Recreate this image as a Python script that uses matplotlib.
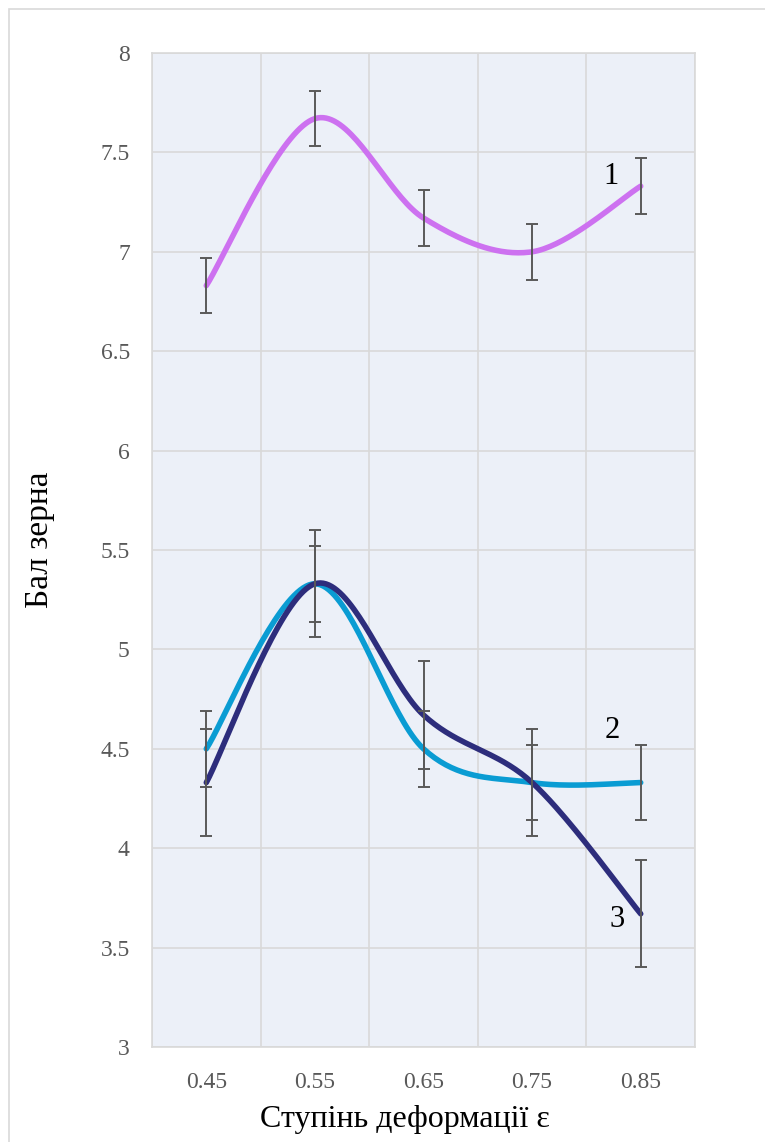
import numpy as np
import matplotlib
matplotlib.use("Agg")
import matplotlib.pyplot as plt
from matplotlib.patches import Rectangle

# data
strain = ["0.45", "0.55", "0.65", "0.75", "0.85"]
grain_1 = [6.83, 7.67, 7.17, 7.0, 7.33]
grain_2 = [4.5, 5.33, 4.5, 4.33, 4.33]
grain_3 = [4.33, 5.33, 4.67, 4.33, 3.67]
err_1 = [0.14, 0.14, 0.14, 0.14, 0.14]
err_2 = [0.19, 0.19, 0.19, 0.19, 0.19]
err_3 = [0.27, 0.27, 0.27, 0.27, 0.27]
curve_labels = ["1", "2", "3"]

colors = ["#CD71F0", "#0A9CD3", "#2D2D7C"]


def smooth(xs, ys, n=40):
    """bezier smoothing like a spreadsheet smoothed line (catmull-rom, 1/6)"""
    p = np.column_stack([xs, ys]).astype(float)
    p = np.vstack([p[0], p, p[-1]])
    out = []
    for i in range(1, len(p) - 2):
        p0, p1, p2, p3 = p[i - 1], p[i], p[i + 1], p[i + 2]
        c1 = p1 + (p2 - p0) / 6.0
        c2 = p2 - (p3 - p1) / 6.0
        t = np.linspace(0, 1, n)[:, None]
        seg = ((1 - t) ** 3) * p1 + 3 * ((1 - t) ** 2) * t * c1 + 3 * (1 - t) * t ** 2 * c2 + t ** 3 * p2
        out.append(seg if i == 1 else seg[1:])
    out = np.vstack(out)
    return out[:, 0], out[:, 1]


plt.rcParams['font.family'] = ['Liberation Serif', 'DejaVu Serif']

fig = plt.figure(figsize=(7.65, 11.42), dpi=100)
fig.patches.append(Rectangle((9 / 765, -0.01), 1.0, 1 - 9 / 1142 + 0.01,
                             transform=fig.transFigure, fill=False,
                             edgecolor="#D9D9D9", linewidth=1.2))
ax = fig.add_axes([152 / 765, 1 - 1047 / 1142, (695 - 152) / 765, (1047 - 53) / 1142])
ax.set_facecolor("#ECF0F8")

x = np.arange(len(strain))
series = [(grain_1, err_1), (grain_2, err_2), (grain_3, err_3)]
for (vals, err), col in zip(series, colors):
    sx, sy = smooth(x, vals)
    ax.plot(sx, sy, color=col, linewidth=4.0, solid_capstyle="round", zorder=3)
for (vals, err), col in zip(series, colors):
    ax.errorbar(x, vals, yerr=err, fmt="none", ecolor="#595959",
                elinewidth=1.4, capsize=4, capthick=1.4, zorder=4)

ax.text(3.73, 7.38, curve_labels[0], fontsize=22, ha="center", va="center")
ax.text(3.74, 4.59, curve_labels[1], fontsize=22, ha="center", va="center")
ax.text(3.78, 3.64, curve_labels[2], fontsize=22, ha="center", va="center")

ax.set_xlim(-0.5, 4.5)
ax.set_ylim(3, 8)
ax.set_xticks(x)
ax.set_xticklabels(strain)
ax.set_xticks(np.arange(-0.5, 4.6, 1.0), minor=True)
ax.set_yticks(np.arange(3, 8.01, 0.5))
ax.set_yticklabels(["3", "3.5", "4", "4.5", "5", "5.5", "6", "6.5", "7", "7.5", "8"])
ax.grid(True, which="minor", axis="x", color="#D9D9D9", linewidth=1.2)
ax.grid(True, which="major", axis="y", color="#D9D9D9", linewidth=1.2)
ax.set_axisbelow(True)
ax.tick_params(axis="both", which="both", length=0, labelsize=17, labelcolor="#595959")
ax.tick_params(axis="x", pad=18)
ax.tick_params(axis="y", pad=16)
for s in ax.spines.values():
    s.set_color("#D9D9D9")
    s.set_linewidth(1.2)

ax.set_xlabel("Ступінь деформації ε", fontsize=23)
ax.xaxis.set_label_coords(0.466, -0.058)
ax.set_ylabel("Бал зерна", fontsize=24, labelpad=34)
ax.yaxis.set_label_coords(-0.178, 0.51)

fig.savefig("out.png", dpi=100)
